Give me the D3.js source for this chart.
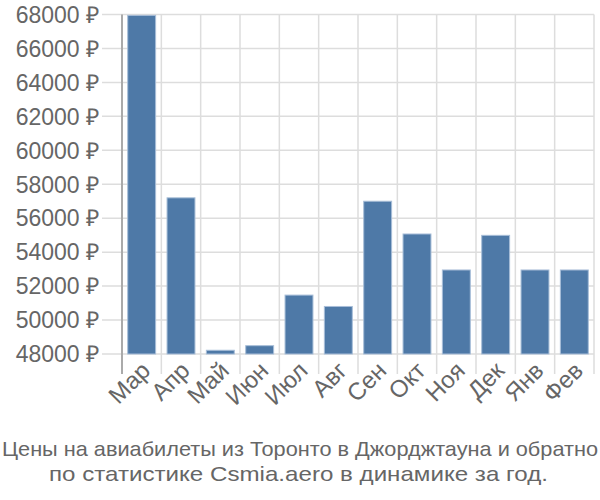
<!DOCTYPE html>
<html><head><meta charset="utf-8">
<script src="https://cdn.jsdelivr.net/npm/d3@7/dist/d3.min.js"></script>
<style>body{margin:0;background:#fff}svg{display:block}</style>
</head><body><svg id="c" width="600" height="500"></svg>
<script>
const categories = ["Мар","Апр","Май","Июн","Июл","Авг","Сен","Окт","Ноя","Дек","Янв","Фев"];
const values = [67950, 57200, 48220, 48490, 51470, 50800, 57000, 55070, 52950, 54990, 52950, 52950];
const yTicks = [48000,50000,52000,54000,56000,58000,60000,62000,64000,66000,68000];
const titleLines = ["Цены на авиабилеты из Торонто в Джорджтауна и обратно","по статистике Csmia.aero в динамике за год."];

const svg = d3.select("#c");
const font = "'Liberation Sans', Arial, sans-serif";
const x = d3.scaleBand().domain(categories).range([122, 594]).paddingInner(0.29).paddingOuter(0.145);
const y = d3.scaleLinear().domain([48000, 68000]).range([354, 14.5]);
const step = x.step();

svg.append("g").selectAll("line").data(yTicks).join("line")
  .attr("x1", 102).attr("x2", 594).attr("y1", d=>y(d)).attr("y2", d=>y(d))
  .attr("stroke", "#ddd").attr("stroke-width", 1.5);
const bounds = d3.range(categories.length + 1).map(i => 122 + i*step);
svg.append("g").selectAll("line").data(bounds.slice(1)).join("line")
  .attr("x1", d=>d).attr("x2", d=>d).attr("y1", 14.5).attr("y2", 374)
  .attr("stroke", "#ddd").attr("stroke-width", 1.5);
svg.append("line").attr("x1",122).attr("x2",122).attr("y1",14.5).attr("y2",374)
  .attr("stroke","#aaa").attr("stroke-width",2);

svg.append("g").selectAll("rect").data(values).join("rect")
  .attr("x", (d,i)=>x(categories[i])).attr("width", x.bandwidth())
  .attr("y", d=>y(d)).attr("height", d=>y(48000)-y(d))
  .attr("fill", "#4e79a7").attr("stroke", "#a8bed8").attr("stroke-width", 1);

svg.append("g").selectAll("text").data(yTicks).join("text")
  .attr("x", 99).attr("y", d=>y(d)).attr("dy", "0.36em")
  .attr("text-anchor","end").attr("font-family", font).attr("font-size", 23)
  .attr("fill","#666").text(d=>d + " ₽");

svg.append("g").selectAll("text").data(categories).join("text")
  .attr("transform", d=>`translate(${x(d)+x.bandwidth()/2+4},${366}) rotate(-45)`)
  .attr("text-anchor","end").attr("font-family", font).attr("font-size", 24)
  .attr("fill","#666").attr("dy","0.36em").text(d=>d);

const tl = [596, 499], tx = [300, 298.5];
svg.append("g").selectAll("text").data(titleLines).join("text")
  .attr("x", (d,i)=>tx[i]).attr("y", (d,i)=>456 + i*25)
  .attr("text-anchor","middle").attr("font-family", font).attr("font-size", 21)
  .attr("textLength", (d,i)=>tl[i]).attr("lengthAdjust","spacingAndGlyphs")
  .attr("fill","#666").text(d=>d);
</script></body></html>
